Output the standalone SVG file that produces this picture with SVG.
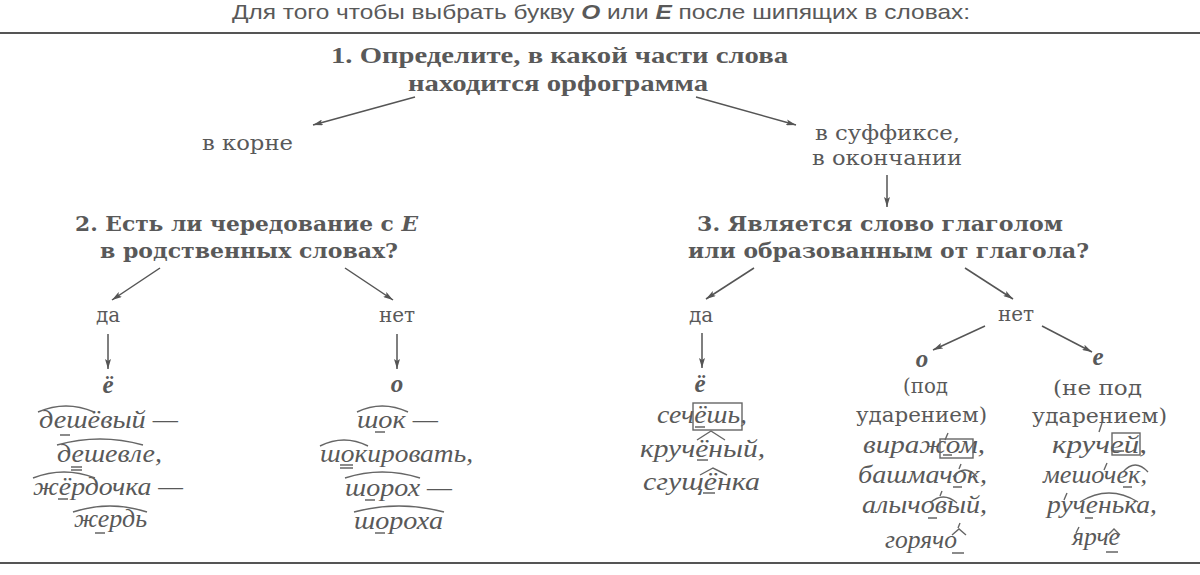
<svg xmlns="http://www.w3.org/2000/svg" width="1200" height="575" viewBox="0 0 1200 575">
<defs>
<marker id="ah" viewBox="0 0 10 6" refX="10" refY="3" markerWidth="10" markerHeight="6" markerUnits="userSpaceOnUse" orient="auto">
<path d="M0,0 L10,3 L0,6 L2,3 Z" fill="#555"/>
</marker>
<style>
text{fill:#595959}
.ti{font-family:"Liberation Sans",Arial,sans-serif;font-size:21px}
.h1{font-family:"Liberation Serif","Times New Roman",serif;font-weight:bold;font-size:23px}
.h{font-family:"DejaVu Serif",serif;font-weight:bold;font-size:20px}
.n{font-family:"DejaVu Serif",serif;font-size:20px}
.i{font-family:"Liberation Serif","Times New Roman",serif;font-style:italic;font-size:26px}
.L{font-family:"Liberation Serif","Times New Roman",serif;font-style:italic;font-weight:bold;font-size:25px}
.c{stroke:#555;stroke-width:1.5;fill:none;marker-end:url(#ah)}
.d{stroke:#666;stroke-width:1.4;fill:none}
.rule{stroke:#555;stroke-width:2}
</style>
</defs>
<rect width="1200" height="575" fill="#fff"/>

<g id="title">
<text class="ti" x="232" y="19" textLength="738" lengthAdjust="spacingAndGlyphs">Для того чтобы выбрать букву <tspan font-weight="bold" font-style="italic">О</tspan> или <tspan font-weight="bold" font-style="italic">Е</tspan> после шипящих в словах:</text>
</g>
<line class="rule" x1="0" y1="33" x2="1200" y2="33"/>
<line class="rule" x1="0" y1="563" x2="1200" y2="563"/>

<g id="connectors">
<line class="c" x1="415" y1="97" x2="313" y2="125"/>
<line class="c" x1="696" y1="97" x2="796" y2="125"/>
<line class="c" x1="887" y1="175" x2="887" y2="207"/>
<line class="c" x1="160" y1="268" x2="112" y2="300"/>
<line class="c" x1="345" y1="268" x2="393" y2="300"/>
<line class="c" x1="108" y1="334" x2="108" y2="369"/>
<line class="c" x1="397" y1="334" x2="397" y2="369"/>
<line class="c" x1="754" y1="268" x2="706" y2="299"/>
<line class="c" x1="965" y1="268" x2="1013" y2="299"/>
<line class="c" x1="702" y1="333" x2="702" y2="368"/>
<line class="c" x1="985" y1="326" x2="933" y2="350"/>
<line class="c" x1="1042" y1="326" x2="1092" y2="352"/>
</g>

<g id="q1">
<text class="h1" x="331" y="63" textLength="457" lengthAdjust="spacingAndGlyphs">1. Определите, в какой части слова</text>
<text class="h1" x="408" y="91" textLength="300" lengthAdjust="spacingAndGlyphs">находится орфограмма</text>
</g>
<g id="root">
<text class="n" x="202" y="150" textLength="91" lengthAdjust="spacingAndGlyphs">в корне</text>
</g>
<g id="suffix">
<text class="n" x="815" y="140" textLength="145" lengthAdjust="spacingAndGlyphs">в суффиксе,</text>
<text class="n" x="812" y="165" textLength="150" lengthAdjust="spacingAndGlyphs">в окончании</text>
</g>

<g id="q2">
<text class="h" x="75" y="231" textLength="343" lengthAdjust="spacingAndGlyphs">2. Есть ли чередование с <tspan font-style="italic">Е</tspan></text>
<text class="h" x="100" y="258" textLength="298" lengthAdjust="spacingAndGlyphs">в родственных словах?</text>
</g>
<g id="q3">
<text class="h" x="697" y="231" textLength="366" lengthAdjust="spacingAndGlyphs">3. Является слово глаголом</text>
<text class="h" x="688" y="258" textLength="401" lengthAdjust="spacingAndGlyphs">или образованным от глагола?</text>
</g>

<g id="q2-yes">
<text class="n" x="108" y="322" text-anchor="middle">да</text>
</g>
<g id="q2-no">
<text class="n" x="397" y="322" text-anchor="middle">нет</text>
</g>
<g id="q3-yes">
<text class="n" x="701" y="322" text-anchor="middle">да</text>
</g>
<g id="q3-no">
<text class="n" x="1016" y="321" text-anchor="middle">нет</text>
</g>

<g id="root-yo">
<text class="L" x="108" y="393" text-anchor="middle">ё</text>
<text class="i" x="39" y="428" textLength="139" lengthAdjust="spacingAndGlyphs">дешёвый —</text>
<text class="i" x="57" y="462" textLength="105" lengthAdjust="spacingAndGlyphs">дешевле,</text>
<text class="i" x="33" y="495" textLength="150" lengthAdjust="spacingAndGlyphs">жёрдочка —</text>
<text class="i" x="74" y="527" textLength="73" lengthAdjust="spacingAndGlyphs">жердь</text>
<path class="d" d="M38 412 Q66 400 94 412 M60 435 H70 M57 445 Q100 433 143 445 M71 467 H82 M71 470 H82 M33 478 Q64 466 95 478 M58 499 H68 M73 512 Q110 500 147 512 M95 533 H105"/>
</g>

<g id="root-o">
<text class="L" x="397" y="392" text-anchor="middle">о</text>
<text class="i" x="357" y="428" textLength="81" lengthAdjust="spacingAndGlyphs">шок —</text>
<text class="i" x="320" y="462" textLength="153" lengthAdjust="spacingAndGlyphs">шокировать,</text>
<text class="i" x="345" y="496" textLength="107" lengthAdjust="spacingAndGlyphs">шорох —</text>
<text class="i" x="354" y="529" textLength="89" lengthAdjust="spacingAndGlyphs">шороха</text>
<path class="d" d="M357 412 Q382 400 408 412 M375 432 H385 M320 446 Q344 434 368 446 M340 465 H353 M340 468 H353 M345 478 Q382 466 420 478 M365 500 H375 M354 512 Q399 500 444 512 M375 533 H385"/>
</g>

<g id="verb-yo">
<text class="L" x="700" y="392" text-anchor="middle">ё</text>
<text class="i" x="657" y="423" textLength="90" lengthAdjust="spacingAndGlyphs">сечёшь,</text>
<text class="i" x="640" y="457" textLength="125" lengthAdjust="spacingAndGlyphs">кручёный,</text>
<text class="i" x="643" y="490" textLength="117" lengthAdjust="spacingAndGlyphs">сгущёнка</text>
<rect class="d" x="693" y="403" width="49" height="27"/>
<path class="d" d="M695 427 H705 M697 440 L711 431 L725 440 M697 460 H708 M700 475 L713 468 L727 475 M703 493 H715"/>
</g>

<g id="o-stressed">
<text class="L" x="922" y="367" text-anchor="middle">о</text>
<text class="n" x="903" y="393" textLength="45" lengthAdjust="spacingAndGlyphs">(под</text>
<text class="n" x="856" y="422" textLength="131" lengthAdjust="spacingAndGlyphs">ударением)</text>
<text class="i" x="863" y="453" textLength="122" lengthAdjust="spacingAndGlyphs">виражом,</text>
<text class="i" x="858" y="483" textLength="129" lengthAdjust="spacingAndGlyphs">башмачок,</text>
<text class="i" x="862" y="513" textLength="125" lengthAdjust="spacingAndGlyphs">алычовый,</text>
<text class="i" x="885" y="548" textLength="72" lengthAdjust="spacingAndGlyphs">горячо</text>
<rect class="d" x="940" y="439" width="33" height="19"/>
<path class="d" d="M945 440 L948 433 M943 455 H952 M953 477 Q965 463 977 477 M959 469 L961 464 M953 487 H962 M930 503 Q943 491 957 503 M940 496 L942 491 M928 518 H937 M952 535 L959 529 L966 535 M958 528 L960 523 M952 553 H964"/>
</g>

<g id="e-unstressed">
<text class="L" x="1098" y="365" text-anchor="middle">е</text>
<text class="n" x="1053" y="395" textLength="89" lengthAdjust="spacingAndGlyphs">(не под</text>
<text class="n" x="1032" y="423" textLength="135" lengthAdjust="spacingAndGlyphs">ударением)</text>
<text class="i" x="1052" y="453" textLength="95" lengthAdjust="spacingAndGlyphs">кручей,</text>
<text class="i" x="1043" y="483" textLength="104" lengthAdjust="spacingAndGlyphs">мешочек,</text>
<text class="i" x="1047" y="513" textLength="110" lengthAdjust="spacingAndGlyphs">рученька,</text>
<text class="i" x="1072" y="545" textLength="48" lengthAdjust="spacingAndGlyphs">ярче</text>
<rect class="d" x="1112" y="433" width="28" height="22"/>
<path class="d" d="M1099 432 L1102 423 M1114 451 H1124 M1104 470 L1107 463 M1123 472 Q1135 458 1148 472 M1123 487 H1132 M1064 500 L1067 493 M1080 502 Q1109 484 1138 502 M1085 518 H1093 M1076 533 L1079 527 M1108 535 L1114 529 L1120 535 M1106 552 H1118"/>
</g>
</svg>
